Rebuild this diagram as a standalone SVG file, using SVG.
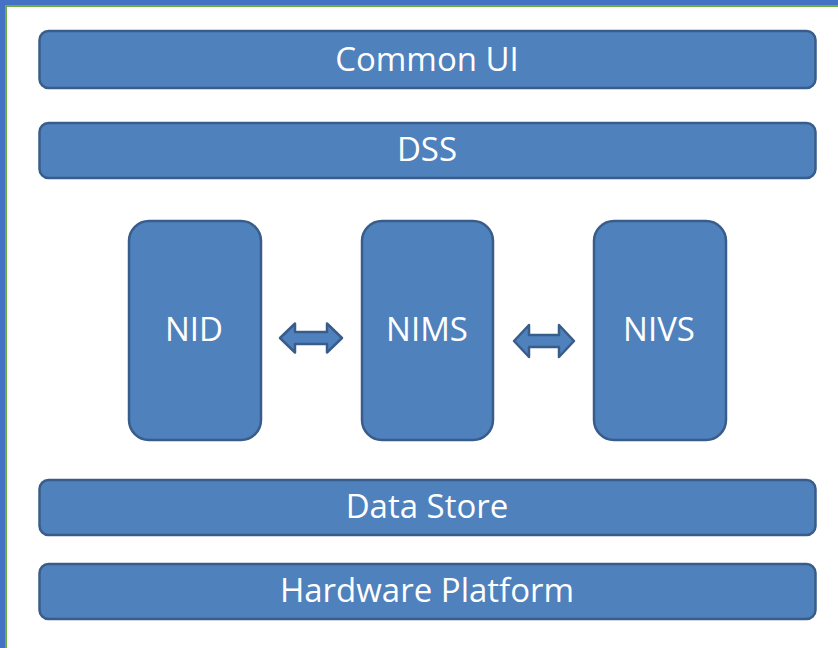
<svg xmlns="http://www.w3.org/2000/svg" width="838" height="648" viewBox="0 0 838 648">
<style>
.bar{fill:#4f81bd;stroke:#385d8a;stroke-width:2.5}
.t{fill:#fff;font-family:"Open Sans","Liberation Sans",sans-serif;font-size:33px;text-anchor:middle;dominant-baseline:central}
.arr{fill:#4f81bd;stroke:#385d8a;stroke-width:2.5;stroke-linejoin:round}
</style>
<rect x="0" y="0" width="838" height="648" fill="#fff"/>
<rect x="0" y="0" width="838" height="5" fill="#4472c4"/>
<rect x="0" y="5" width="838" height="2" fill="#70ad47"/>
<rect x="0" y="0" width="5" height="648" fill="#4472c4"/>
<rect x="5" y="5" width="2" height="643" fill="#70ad47"/>
<g id="common-ui"><rect class="bar" x="39.5" y="31" width="776" height="57" rx="9"/><text class="t" x="427" y="58">Common UI</text></g>
<g id="dss"><rect class="bar" x="39.5" y="123" width="776" height="55" rx="9"/><text class="t" x="427" y="148">DSS</text></g>
<g id="nid"><rect class="bar" x="129" y="221" width="132" height="219" rx="20"/><text class="t" x="194" y="328">NID</text></g>
<g id="nims"><rect class="bar" x="362" y="221" width="131" height="219" rx="20"/><text class="t" x="427" y="328">NIMS</text></g>
<g id="nivs"><rect class="bar" x="594" y="221" width="132" height="219" rx="20"/><text class="t" x="659" y="328">NIVS</text></g>
<g id="data-store"><rect class="bar" x="39.5" y="480" width="776" height="55" rx="9"/><text class="t" x="427" y="505">Data Store</text></g>
<g id="hardware-platform"><rect class="bar" x="39.5" y="564" width="776" height="55" rx="9"/><text class="t" x="427" y="589">Hardware Platform</text></g>
<g id="connectors">
<path class="arr" d="M280,338 L295,323.5 L295,332 L327,332 L327,323.5 L342,338 L327,352.5 L327,344 L295,344 L295,352.5 Z"/>
<path class="arr" d="M514,341 L529,325 L529,335 L559,335 L559,325 L574,341 L559,357 L559,347 L529,347 L529,357 Z"/>
</g>
</svg>
